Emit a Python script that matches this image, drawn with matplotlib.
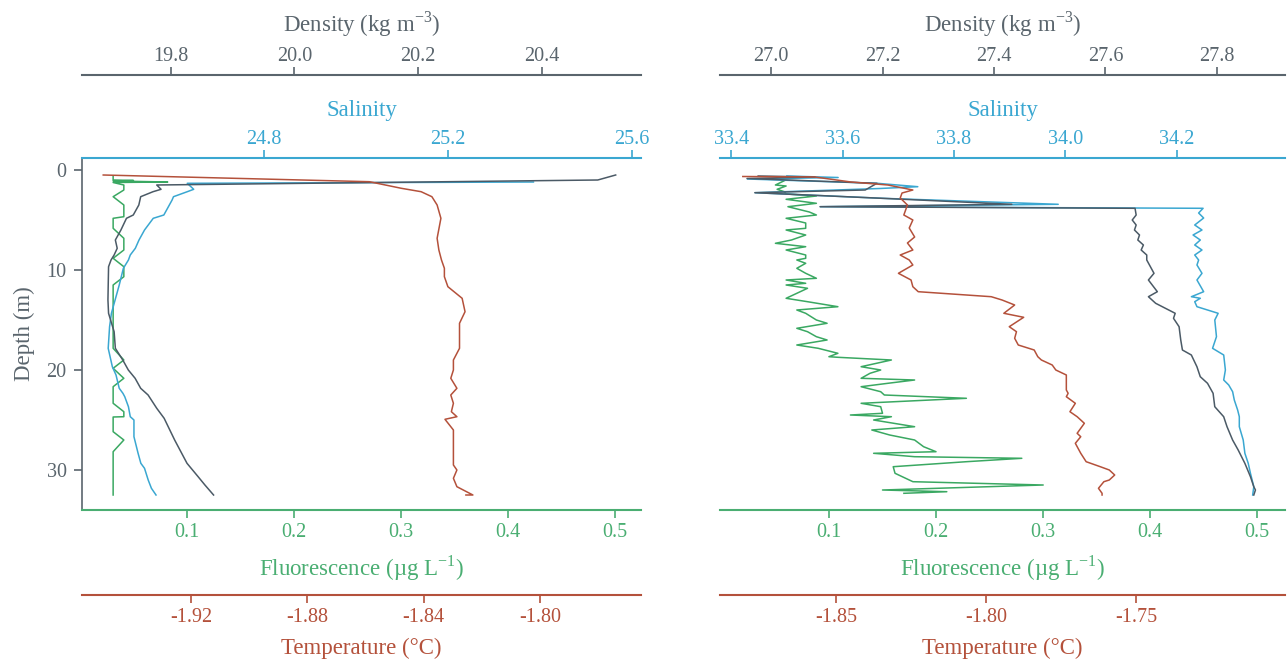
import matplotlib.pyplot as plt
from matplotlib.ticker import FixedLocator, FormatStrFormatter

plt.rcParams['font.family'] = ['Liberation Serif', 'DejaVu Serif']
plt.rcParams['mathtext.fontset'] = 'custom'
plt.rcParams['mathtext.rm'] = 'Liberation Serif'
plt.rcParams['axes.unicode_minus'] = False

DEN_C = '#5a656d'
DEN_LINE = '#4b5a66'
SAL_C = '#3aa7d1'
FLU_C = '#4aae72'
FLU_LINE = '#3aa862'
TMP_C = '#b4513b'

# ---------------- left profile ----------------
l_flu_depth = [0.6, 1.0, 1.05, 1.1, 1.2, 1.25, 1.5, 2.0, 2.67, 3.5, 4.67, 4.83, 5.83, 6.83, 8.0,
               8.83, 9.67, 10.67, 11.5, 17.83, 19.0, 19.83, 20.83, 21.67, 23.33, 24.17, 24.67,
               24.7, 26.17, 27.0, 28.17, 32.5]
l_flu = [0.031, 0.031, 0.050, 0.031, 0.082, 0.031, 0.041, 0.041, 0.031, 0.041, 0.041, 0.031,
         0.031, 0.041, 0.041, 0.031, 0.041, 0.041, 0.031, 0.031, 0.041, 0.031, 0.041, 0.031,
         0.031, 0.041, 0.041, 0.031, 0.031, 0.041, 0.031, 0.031]

l_sal_depth = [1.2, 1.33, 1.93, 2.17, 2.67, 3.0, 4.5, 4.83, 6.0, 7.0, 7.83, 8.5, 9.0, 9.83, 11.5,
               13.33, 14.33, 15.67, 17.83, 19.67, 20.5, 21.83, 22.33, 22.67, 23.67, 24.67, 25.0,
               26.67, 28.33, 29.33, 29.83, 31.0, 31.83, 32.5]
l_sal = [25.386, 24.633, 24.647, 24.633, 24.603, 24.600, 24.582, 24.559, 24.540, 24.528, 24.520,
         24.509, 24.505, 24.494, 24.485, 24.474, 24.468, 24.464, 24.461, 24.470, 24.478, 24.485,
         24.493, 24.497, 24.505, 24.509, 24.517, 24.517, 24.526, 24.532, 24.540, 24.548, 24.555,
         24.565]

l_den_depth = [0.5, 1.0, 1.5, 1.93, 2.17, 2.67, 3.5, 4.5, 4.83, 6.0, 7.0, 7.83, 8.5, 9.0, 9.67,
               13.0, 14.33, 16.17, 17.83, 19.0, 20.0, 20.83, 21.83, 22.5, 23.83, 24.83, 27.0,
               29.33, 30.67, 31.5, 32.5]
l_den = [20.520, 20.491, 19.777, 19.784, 19.771, 19.751, 19.748, 19.739, 19.728, 19.719, 19.710,
         19.713, 19.708, 19.703, 19.699, 19.698, 19.699, 19.708, 19.710, 19.722, 19.731, 19.742,
         19.751, 19.763, 19.777, 19.789, 19.806, 19.826, 19.844, 19.855, 19.869]

l_tmp_depth = [0.5, 1.17, 1.83, 2.17, 2.67, 3.5, 4.83, 6.83, 8.0, 9.0, 9.83, 10.67, 11.67, 12.83,
               14.17, 15.33, 17.83, 19.0, 20.0, 20.83, 21.83, 22.5, 23.33, 24.17, 24.67, 24.93,
               26.0, 29.5, 30.0, 30.83, 31.67, 32.5, 32.5]
l_tmp = [-1.9502, -1.8587, -1.8477, -1.8409, -1.8372, -1.8354, -1.8341, -1.8354, -1.8348, -1.8339,
         -1.8329, -1.8329, -1.8317, -1.8268, -1.8258, -1.8277, -1.8277, -1.8298, -1.8298, -1.8307,
         -1.8286, -1.8307, -1.8298, -1.8305, -1.8286, -1.8327, -1.8298, -1.8298, -1.8286, -1.8298,
         -1.8286, -1.8231, -1.8255]

# ---------------- right profile ----------------
r_flu_depth = [1.07, 1.5, 1.6, 1.93, 2.17, 2.4, 2.6, 2.93, 3.33, 3.67, 4.2, 4.5, 4.83, 5.3, 5.83,
               6.0, 6.5, 7.0, 7.33, 7.67, 8.0, 8.5, 8.83, 9.0, 9.33, 9.83, 10.33, 10.83, 11.0,
               11.33, 11.5, 11.83, 12.33, 12.83, 13.17, 13.67, 14.0, 14.33, 15.0, 15.33, 15.83,
               16.17, 16.67, 17.0, 17.5, 17.83, 18.33, 18.67, 18.73, 19.0, 19.67, 20.0, 20.33,
               20.83, 21.0, 21.33, 21.67, 22.17, 22.5, 22.83, 23.33, 23.67, 24.33, 24.5, 24.67,
               25.0, 25.67, 26.0, 26.5, 27.0, 27.67, 28.17, 28.33, 28.67, 28.83, 29.17, 29.67,
               30.33, 31.17, 31.5, 32.0, 32.17, 32.33]
r_flu = [0.0582, 0.0499, 0.0599, 0.0515, 0.0582, 0.0599, 0.0882, 0.0599, 0.0882, 0.0616, 0.0816,
         0.0882, 0.0599, 0.0782, 0.0782, 0.0599, 0.0782, 0.0649, 0.0499, 0.0782, 0.0599, 0.0782,
         0.0782, 0.0699, 0.0782, 0.0699, 0.0782, 0.0882, 0.0599, 0.0782, 0.0599, 0.0799, 0.0699,
         0.0599, 0.0799, 0.1083, 0.0699, 0.0782, 0.0882, 0.0982, 0.0699, 0.0799, 0.0882, 0.0982,
         0.0699, 0.0899, 0.1083, 0.0999, 0.1083, 0.1583, 0.1300, 0.1483, 0.1383, 0.1300, 0.1800,
         0.1550, 0.1300, 0.1483, 0.1517, 0.2284, 0.1300, 0.1483, 0.1500, 0.1200, 0.1583, 0.1417,
         0.1800, 0.1400, 0.1567, 0.1800, 0.1884, 0.2000, 0.1417, 0.1800, 0.2802, 0.2284, 0.1600,
         0.1617, 0.1784, 0.3002, 0.1500, 0.2101, 0.1700]

r_sal_depth = [0.6, 0.75, 0.9, 1.33, 1.67, 1.85, 2.27, 2.83, 3.43, 3.67, 3.83,
               4.3, 4.8, 5.5, 6.0, 6.5, 7.0, 7.5, 8.0, 8.5, 9.0, 9.5, 10.33, 11.0, 12.17,
               12.67, 12.83, 13.17, 13.67, 14.33, 15.0, 16.67, 17.83, 18.5, 20.0, 21.0, 21.5,
               22.17, 23.0, 24.0, 24.67, 25.67, 27.0, 28.33, 29.33, 30.33, 31.67, 32.5]
r_sal = [33.500, 33.592, 33.429, 33.662, 33.735, 33.667, 33.443, 33.671, 33.987, 33.560, 34.247,
         34.239, 34.248, 34.232, 34.245, 34.229, 34.242, 34.232, 34.245, 34.232, 34.239, 34.236,
         34.245, 34.236, 34.248, 34.226, 34.242, 34.232, 34.236, 34.274, 34.268, 34.271, 34.264,
         34.284, 34.287, 34.284, 34.293, 34.300, 34.303, 34.309, 34.312, 34.312, 34.319, 34.322,
         34.328, 34.332, 34.338, 34.336]

r_den_depth = [0.6, 0.7, 0.85, 1.33, 2.0, 2.27, 2.83, 3.43, 3.67, 3.83, 4.5, 5.0, 5.5,
               6.0, 6.5, 7.0, 7.5, 8.0, 8.5, 9.0, 10.33, 11.0, 12.17, 12.67, 13.33, 14.33, 14.83,
               15.67, 17.0, 18.0, 18.5, 19.67, 20.67, 21.33, 22.33, 23.67, 24.67, 25.67, 27.0,
               28.0, 29.33, 30.67, 31.67, 32.0, 32.5]
r_den = [26.977, 27.079, 26.957, 27.190, 27.169, 26.971, 27.199, 27.432, 27.088, 27.653,
         27.655, 27.648, 27.655, 27.652, 27.661, 27.658, 27.668, 27.664, 27.674,
         27.674, 27.687, 27.677, 27.693, 27.677, 27.690, 27.725, 27.722, 27.732, 27.735, 27.738,
         27.754, 27.764, 27.770, 27.783, 27.793, 27.796, 27.812, 27.818, 27.828, 27.838, 27.850,
         27.860, 27.866, 27.869, 27.866]

r_tmp_depth = [0.65, 0.7, 1.2, 1.5, 2.0, 2.3, 2.8, 3.5, 4.5, 5.0, 5.8, 6.7, 7.3, 8.0,
               8.5, 9.0, 9.5, 10.33, 11.0, 11.67, 12.17, 12.67, 13.0, 13.5, 14.33, 14.73, 15.67,
               16.17, 16.83, 17.5, 18.0, 18.67, 19.0, 19.5, 20.0, 20.5, 22.0, 22.33, 22.67, 23.33,
               24.17, 24.67, 25.33, 26.33, 26.67, 27.33, 28.33, 29.17, 29.67, 30.0, 30.5, 31.0,
               31.17, 31.83, 32.33, 32.5]
r_tmp = [-1.8810, -1.8570, -1.8450, -1.8327, -1.8244, -1.8280, -1.8286, -1.8262,
         -1.8274, -1.8244, -1.8256, -1.8238, -1.8262, -1.8244, -1.8286, -1.8256, -1.8244, -1.8292,
         -1.8250, -1.8244, -1.8226, -1.7983, -1.7947, -1.7905, -1.7941, -1.7875, -1.7923, -1.7899,
         -1.7905, -1.7893, -1.7840, -1.7828, -1.7816, -1.7780, -1.7768, -1.7733, -1.7733, -1.7727,
         -1.7733, -1.7703, -1.7721, -1.7697, -1.7673, -1.7697, -1.7685, -1.7703, -1.7685, -1.7667,
         -1.7620, -1.7590, -1.7572, -1.7590, -1.7608, -1.7626, -1.7614, -1.7614]

# axis ranges and ticks
l_lims = dict(flu=(0.0019, 0.5243), sal=(24.404, 25.620), den=(19.656, 20.561), tmp=(-1.9575, -1.7653))
r_lims = dict(flu=(-0.0019, 0.5262), sal=(33.380, 34.394), den=(26.9085, 27.922), tmp=(-1.8886, -1.7005))
flu_ticks = [0.1, 0.2, 0.3, 0.4, 0.5]
l_sal_ticks = [24.8, 25.2, 25.6]
r_sal_ticks = [33.4, 33.6, 33.8, 34.0, 34.2]
l_den_ticks = [19.8, 20.0, 20.2, 20.4]
r_den_ticks = [27.0, 27.2, 27.4, 27.6, 27.8]
l_tmp_ticks = [-1.92, -1.88, -1.84, -1.80]
r_tmp_ticks = [-1.85, -1.80, -1.75]
depth_ticks = [0, 10, 20, 30]

TICK_FS = 14.5
LABEL_FS = 16.5


def style_xaxis(a, color, ticks, fmt, side, pad):
    for s in a.spines.values():
        s.set_visible(False)
    a.spines[side].set_visible(True)
    a.spines[side].set_color(color)
    a.spines[side].set_linewidth(1.5)
    a.xaxis.set_major_locator(FixedLocator(ticks))
    a.xaxis.set_major_formatter(FormatStrFormatter(fmt))
    a.tick_params(axis='x', colors=color, length=6, width=1.2, labelsize=TICK_FS, pad=pad,
                  direction='out')


def draw_panel(fig, rect, flu, sal, den, tmp, lims, sal_ticks, den_ticks, tmp_ticks, show_depth):
    ax = fig.add_axes(rect)
    ax_sal = ax.twiny()
    ax_den = ax.twiny()
    ax_tmp = ax.twiny()

    ax.plot(flu[1], flu[0], color=FLU_LINE, lw=1.1)
    ax_sal.plot(sal[1], sal[0], color=SAL_C, lw=1.1)
    ax_den.plot(den[1], den[0], color=DEN_LINE, lw=1.1)
    ax_tmp.plot(tmp[1], tmp[0], color=TMP_C, lw=1.1)

    ax.set_ylim(34.0, -1.2)
    ax.set_xlim(lims['flu'])
    ax_sal.set_xlim(lims['sal'])
    ax_den.set_xlim(lims['den'])
    ax_tmp.set_xlim(lims['tmp'])

    # fluorescence: bottom spine of the main axes
    style_xaxis(ax, FLU_C, flu_ticks, '%.1f', 'bottom', 3.5)
    ax.set_xlabel('Fluorescence (µg L$^{-1}$)', color=FLU_C, fontsize=LABEL_FS, labelpad=8)

    # salinity: top spine
    style_xaxis(ax_sal, SAL_C, sal_ticks, '%.1f', 'top', 0.5)
    ax_sal.set_xlabel('Salinity', color=SAL_C, fontsize=LABEL_FS, labelpad=10)

    # density: top, pushed outward
    style_xaxis(ax_den, DEN_C, den_ticks, '%.1f', 'top', 0.5)
    ax_den.spines['top'].set_position(('outward', 60))
    ax_den.set_xlabel('Density (kg m$^{-3}$)', color=DEN_C, fontsize=LABEL_FS, labelpad=11)

    # temperature: bottom, pushed outward
    ax_tmp.xaxis.tick_bottom()
    ax_tmp.xaxis.set_label_position('bottom')
    style_xaxis(ax_tmp, TMP_C, tmp_ticks, '%.2f', 'bottom', 3.5)
    ax_tmp.spines['bottom'].set_position(('outward', 61))
    ax_tmp.set_xlabel('Temperature (°C)', color=TMP_C, fontsize=LABEL_FS, labelpad=8)

    if show_depth:
        ax.spines['left'].set_visible(True)
        ax.spines['left'].set_color(DEN_C)
        ax.spines['left'].set_linewidth(1.2)
        ax.yaxis.set_major_locator(FixedLocator(depth_ticks))
        ax.tick_params(axis='y', colors=DEN_C, length=6, width=1.2, labelsize=TICK_FS, pad=5)
        ax.set_ylabel('Depth (m)', color=DEN_C, fontsize=LABEL_FS, labelpad=8)
    else:
        ax.tick_params(axis='y', left=False, labelleft=False)
    return ax


fig = plt.figure(figsize=(12.87, 6.64), dpi=100)
W, H = 1287.0, 664.0
bottom = 1 - 510 / H
height = 352 / H

draw_panel(fig, [82 / W, bottom, 559 / W, height],
           (l_flu_depth, l_flu), (l_sal_depth, l_sal), (l_den_depth, l_den), (l_tmp_depth, l_tmp),
           l_lims, l_sal_ticks, l_den_ticks, l_tmp_ticks, True)
draw_panel(fig, [720 / W, bottom, 565 / W, height],
           (r_flu_depth, r_flu), (r_sal_depth, r_sal), (r_den_depth, r_den), (r_tmp_depth, r_tmp),
           r_lims, r_sal_ticks, r_den_ticks, r_tmp_ticks, False)

fig.savefig('out.png', dpi=100)
